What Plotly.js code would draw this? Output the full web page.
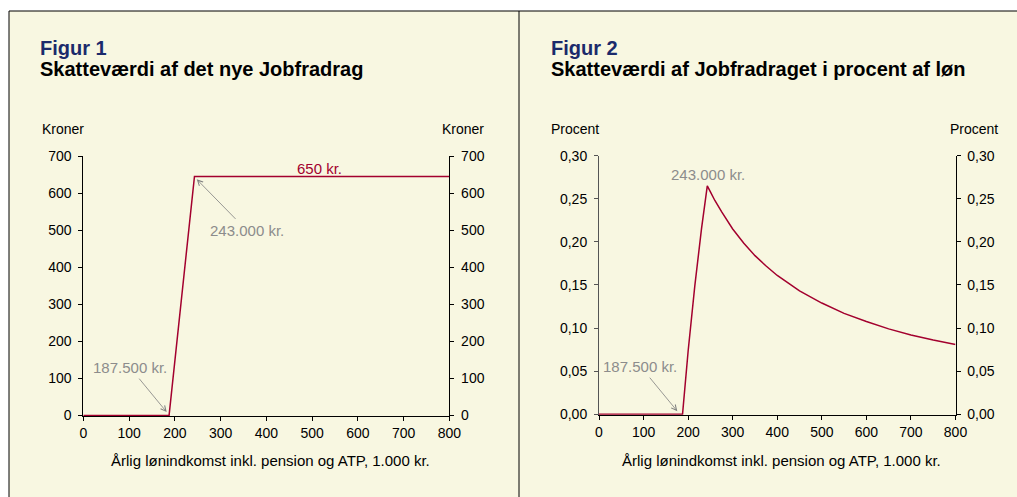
<!DOCTYPE html>
<html><head><meta charset="utf-8">
<script src="https://cdn.plot.ly/plotly-3.0.1.min.js"></script>
<style>html,body{margin:0;padding:0;background:#fff}#chart{width:1017px;height:497px}</style>
</head><body><div id="chart"></div>
<script>
// ---- data ----
const xTickVals = [0, 100, 200, 300, 400, 500, 600, 700, 800];
const xTickText = ['0', '100', '200', '300', '400', '500', '600', '700', '800'];
const y1TickVals = [0, 100, 200, 300, 400, 500, 600, 700];
const y1TickText = ['0', '100', '200', '300', '400', '500', '600', '700'];
const y2TickVals = [0, 0.05, 0.10, 0.15, 0.20, 0.25, 0.30];
const y2TickText = ['0,00', '0,05', '0,10', '0,15', '0,20', '0,25', '0,30'];

const fig1Income = [0, 187.5, 243, 800];
const fig1Value = [0, 0, 645, 645];

const fig2Income = [0, 187.5, 200, 215, 230, 243, 250, 260, 275, 290, 300, 325, 350, 375, 400, 450, 500, 550, 600, 650, 700, 750, 800];
const fig2Pct = [0, 0, 0.073, 0.149, 0.215, 0.265, 0.258, 0.248, 0.235, 0.222, 0.215, 0.1985, 0.184, 0.172, 0.161, 0.143, 0.129, 0.117, 0.1075, 0.099, 0.092, 0.086, 0.081];

// ---- helpers ----
const W = 1017, H = 497;
const px = v => v / W;
const py = v => 1 - v / H;
const FONT = 'Liberation Sans, Arial, sans-serif';
const RED = '#A3002E';
const GREY = '#8C8C8C';
const NAVY = '#1B2A6B';
const BEIGE = '#F8F7E1';

const tickFont = {family: FONT, size: 14, color: '#000'};

function xAx(domain, anchor) {
  return {domain: domain, anchor: anchor, range: [0, 800], tickmode: 'array', tickvals: xTickVals, ticktext: xTickText,
    ticks: 'outside', ticklen: 4, tickcolor: '#000', showline: true, linecolor: '#000', linewidth: 1,
    showgrid: false, zeroline: false, tickfont: tickFont, layer: 'below traces', fixedrange: true};
}
function yAx(domain, anchor, range, vals, text, side, overlay, lineColor) {
  const a = {domain: domain, anchor: anchor, range: range, tickmode: 'array', tickvals: vals, ticktext: text,
    ticks: 'outside', ticklen: 4, tickcolor: lineColor, showline: true, linecolor: lineColor, linewidth: 1,
    showgrid: false, zeroline: false, tickfont: tickFont, side: side, layer: 'below traces', fixedrange: true,
    ticklabelstandoff: 4};
  if (overlay) a.overlaying = overlay;
  return a;
}

const traces = [
  {x: fig1Income, y: fig1Value, type: 'scatter', mode: 'lines', line: {color: RED, width: 1.5}, xaxis: 'x', yaxis: 'y', hoverinfo: 'skip'},
  {x: fig2Income, y: fig2Pct, type: 'scatter', mode: 'lines', line: {color: RED, width: 1.5}, xaxis: 'x2', yaxis: 'y2', hoverinfo: 'skip'},
  {x: [0], y: [0], type: 'scatter', mode: 'none', xaxis: 'x', yaxis: 'y3', hoverinfo: 'skip'},
  {x: [0], y: [0], type: 'scatter', mode: 'none', xaxis: 'x2', yaxis: 'y4', hoverinfo: 'skip'}
];

function txt(text, x, y, xanchor, size, color, bold) {
  return {text: bold ? '<b>' + text + '</b>' : text, x: px(x), y: py(y), xref: 'paper', yref: 'paper',
    xanchor: xanchor, yanchor: 'middle', showarrow: false, font: {family: FONT, size: size, color: color}};
}
function arrowNote(text, xd, yd, xref, yref, ax, ay) {
  return {text: text, x: xd, y: yd, xref: xref, yref: yref, ax: ax, ay: ay, showarrow: true,
    arrowhead: 5, arrowsize: 1.3, arrowwidth: 0.8, arrowcolor: '#7F7F7F', startstandoff: 2,
    font: {family: FONT, size: 14, color: GREY}};
}

const annotations = [
  txt('Figur 1', 38, 48, 'left', 20, NAVY, true),
  txt('Skatteværdi af det nye Jobfradrag', 38, 69, 'left', 20, '#000', true),
  txt('Figur 2', 549, 48, 'left', 20, NAVY, true),
  txt('Skatteværdi af Jobfradraget i procent af løn', 549, 69, 'left', 20, '#000', true),
  txt('Kroner', 40, 129, 'left', 14, '#000', false),
  txt('Kroner', 486, 129, 'right', 14, '#000', false),
  txt('Procent', 549, 129, 'left', 14, '#000', false),
  txt('Procent', 1000, 129, 'right', 14, '#000', false),
  txt('Årlig lønindkomst inkl. pension og ATP, 1.000 kr.', 270, 460, 'center', 15, '#000', false),
  txt('Årlig lønindkomst inkl. pension og ATP, 1.000 kr.', 781, 460, 'center', 15, '#000', false),
  txt('650 kr.', 319.7, 168, 'center', 15, RED, false),
  txt('243.000 kr.', 707.5, 174, 'center', 15, GREY, false),
  arrowNote('243.000 kr.', 248, 637, 'x', 'y', 50, 51),
  arrowNote('187.500 kr.', 182.3, 9, 'x', 'y', -37, -45),
  arrowNote('187.500 kr.', 175.7, 0.0035, 'x2', 'y2', -37, -45)
];
annotations.slice(-3).forEach(a => a.font.size = 15);

const shapes = [
  {type: 'rect', xref: 'paper', yref: 'paper', x0: px(9), x1: px(519), y0: 0, y1: py(11), fillcolor: BEIGE, line: {width: 0}, layer: 'below'},
  {type: 'rect', xref: 'paper', yref: 'paper', x0: px(519), x1: 1, y0: 0, y1: py(11), fillcolor: BEIGE, line: {width: 0}, layer: 'below'},
  {type: 'line', xref: 'paper', yref: 'paper', x0: px(9), x1: 1, y0: py(11), y1: py(11), line: {color: '#000', width: 1}},
  {type: 'line', xref: 'paper', yref: 'paper', x0: px(9), x1: px(9), y0: 0, y1: py(11), line: {color: '#000', width: 1}},
  {type: 'line', xref: 'paper', yref: 'paper', x0: px(519), x1: px(519), y0: 0, y1: py(11), line: {color: '#000', width: 1}}
];

const y1Dom = [py(416), py(156)];
const y2Dom = [py(414.7), py(155.7)];

const layout = {
  width: W, height: H, margin: {l: 0, r: 0, t: 0, b: 0},
  paper_bgcolor: '#fff', plot_bgcolor: 'rgba(0,0,0,0)',
  showlegend: false, font: {family: FONT},
  xaxis: xAx([px(83.3), px(449.3)], 'y'),
  xaxis2: xAx([px(599), px(955.5)], 'y2'),
  yaxis: yAx(y1Dom, 'x', [-1.5, 700], y1TickVals, y1TickText, 'left', null, '#000'),
  yaxis3: yAx(y1Dom, 'x', [-1.5, 700], y1TickVals, y1TickText, 'right', 'y', '#000'),
  yaxis2: yAx(y2Dom, 'x2', [-0.0006, 0.30], y2TickVals, y2TickText, 'left', null, '#555'),
  yaxis4: yAx(y2Dom, 'x2', [-0.0006, 0.30], y2TickVals, y2TickText, 'right', 'y2', '#000'),
  annotations: annotations, shapes: shapes
};

Plotly.newPlot('chart', traces, layout, {displayModeBar: false, staticPlot: true});
</script></body></html>
